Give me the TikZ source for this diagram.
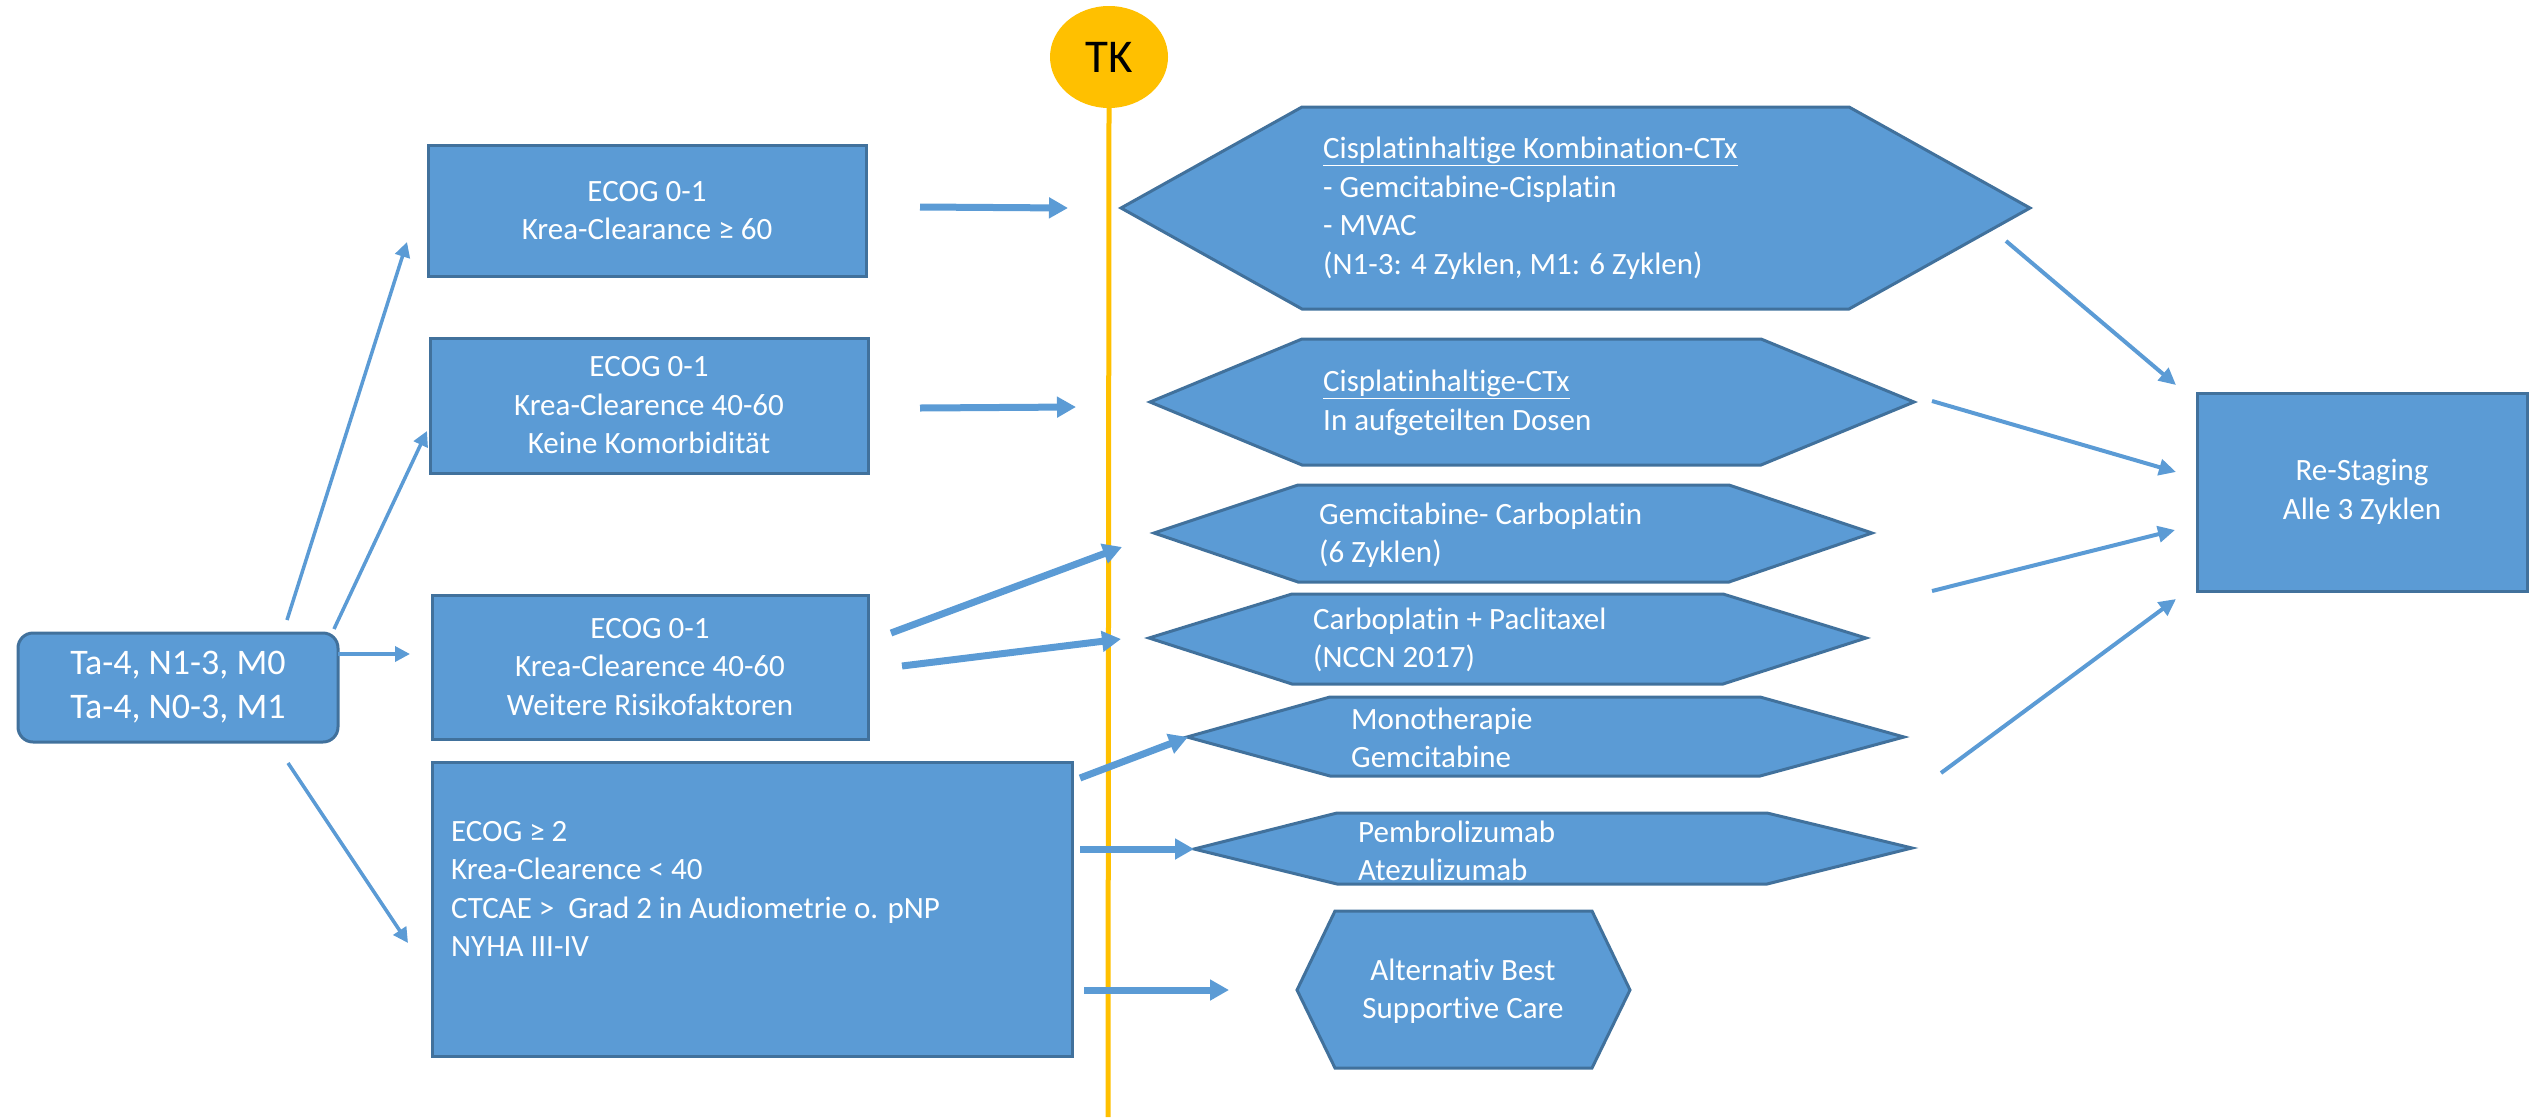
\documentclass[tikz,border=0pt]{standalone}
\usepackage{fontspec}
\setmainfont{Carlito}[Ligatures={NoCommon}]
\usetikzlibrary{arrows.meta,shapes.geometric}
\definecolor{boxfill}{HTML}{5B9BD5}
\definecolor{boxline}{HTML}{41719C}
\definecolor{tkgold}{HTML}{FFC000}
\begin{document}
\begin{tikzpicture}[x=1pt,y=-1pt,
  shapebox/.style={fill=boxfill,draw=boxline,line width=3pt,line join=miter},
  txt/.style={text=white,font=\fontsize{31}{38.5}\selectfont,inner sep=0pt},
  bigtxt/.style={text=white,font=\fontsize{36}{44}\selectfont,inner sep=0pt},
  thinarrow/.style={draw=boxfill,line width=3.5pt,-{Triangle[length=15pt,width=15pt]}},
  thickarrow/.style={draw=boxfill,line width=7pt,-{Triangle[length=19pt,width=20pt]}},
  rsarrow/.style={draw=boxfill,line width=4pt,-{Triangle[length=17pt,width=16pt]}}]
\useasboundingbox (0,0) rectangle (2529,1117);

% TK marker and time line
\node[ellipse,fill=tkgold,minimum width=118pt,minimum height=102pt,inner sep=0pt,
      font=\fontsize{47}{50}\selectfont] (tk) at (1109,57) {TK};
\coordinate (tkend) at (1108,1117);
\draw[tkgold,line width=5pt] (tk.south) -- (tkend);

% left start box
\node[shapebox,rounded corners=15pt,minimum width=320pt,minimum height=109pt,
      bigtxt,align=center] (b0) at (178,687.5) {Ta-4, N1-3, M0\\Ta-4, N0-3, M1};

% condition boxes
\node[shapebox,minimum width=438pt,minimum height=131pt,txt,align=center] (b1) at (647,210.5)
  {ECOG 0-1\\Krea-Clearance ≥ 60};
\node[shapebox,minimum width=438pt,minimum height=135pt,txt,align=center] (b2) at (649,405.5)
  {ECOG 0-1\\Krea-Clearence 40-60\\Keine Komorbidität};
\node[shapebox,minimum width=436pt,minimum height=144pt,txt,align=center] (b3) at (650,667)
  {ECOG 0-1\\Krea-Clearence 40-60\\Weitere Risikofaktoren};
\node[shapebox,minimum width=640pt,minimum height=294pt] (b4) at (752,909) {};
\node[txt,align=left,anchor=west] (b4t) at (451,889)
  {ECOG ≥ 2\\Krea-Clearence < 40\\CTCAE >\ \ Grad 2 in Audiometrie o. pNP\\NYHA III-IV};

% re-staging box
\node[shapebox,minimum width=330pt,minimum height=198pt,txt,align=center] (rs) at (2362,492)
  {Re-Staging\\Alle 3 Zyklen};

% therapy hexagons
\draw[shapebox] (1121,208) coordinate (h1w) -- (1302,107) -- (1849,107) -- (2030,208) coordinate (h1e)
  -- (1849,309) -- (1302,309) -- cycle;
\node[txt,align=left,anchor=west] (h1t) at (1323,208)
  {\underline{Cisplatinhaltige Kombination-CTx}\\- Gemcitabine-Cisplatin\\- MVAC\\(N1-3: 4 Zyklen, M1: 6 Zyklen)};

\draw[shapebox] (1150,402) coordinate (h2w) -- (1302,339) -- (1761,339) -- (1914,402) coordinate (h2e)
  -- (1761,465) -- (1302,465) -- cycle;
\node[txt,align=left,anchor=west] (h2t) at (1323,403)
  {\underline{Cisplatinhaltige-CTx}\\In aufgeteilten Dosen};

\draw[shapebox] (1154,533) coordinate (h3w) -- (1298,485) -- (1729,485) -- (1872,533) coordinate (h3e)
  -- (1729,582) -- (1298,582) -- cycle;
\node[txt,align=left,anchor=west] (h3t) at (1319,535)
  {Gemcitabine- Carboplatin\\(6 Zyklen)};

\draw[shapebox] (1149,638) coordinate (h4w) -- (1292,594) -- (1723,594) -- (1866,638) coordinate (h4e)
  -- (1723,684) -- (1292,684) -- cycle;
\node[txt,align=left,anchor=west] (h4t) at (1313,640)
  {Carboplatin + Paclitaxel\\(NCCN 2017)};

\draw[shapebox] (1187,737) coordinate (h5w) -- (1330,697) -- (1760,697) -- (1904,737) coordinate (h5e)
  -- (1760,776) -- (1330,776) -- cycle;
\node[txt,align=left,anchor=west] (h5t) at (1351,738)
  {Monotherapie\\Gemcitabine};

\draw[shapebox] (1194,849) coordinate (h6w) -- (1337,813) -- (1767,813) -- (1912,848) coordinate (h6e)
  -- (1767,884) -- (1337,884) -- cycle;
\node[txt,align=left,anchor=west] (h6t) at (1358,851)
  {Pembrolizumab\\Atezulizumab};

\draw[shapebox] (1297,990) coordinate (h7w) -- (1335,911) -- (1592,911) -- (1630,990) coordinate (h7e)
  -- (1592,1068) -- (1335,1068) -- cycle;
\node[txt,align=center] (h7t) at (1463,991)
  {Alternativ Best\\Supportive Care};

% connector end points
\coordinate (l1s) at (287,620);  \coordinate (l1e) at (407,242);
\coordinate (l2s) at (334,629);  \coordinate (l2e) at (427,431);
\coordinate (l3s) at (338,654);  \coordinate (l3e) at (410,654);
\coordinate (l4s) at (288,763);  \coordinate (l4e) at (408,943);

\coordinate (a1s) at (920,207);  \coordinate (a1e) at (1068,208);
\coordinate (a2s) at (920,408);  \coordinate (a2e) at (1076,407);
\coordinate (a3s) at (891,633);  \coordinate (a3e) at (1122,547);
\coordinate (a4s) at (902,666);  \coordinate (a4e) at (1121,639);
\coordinate (a5s) at (1080,778); \coordinate (a5e) at (1188,737);
\coordinate (a6s) at (1080,849); \coordinate (a6e) at (1194,849);
\coordinate (a7s) at (1084,990); \coordinate (a7e) at (1229,990);

\coordinate (r1s) at (2006,241); \coordinate (r1e) at (2176,385);
\coordinate (r2s) at (1932,401); \coordinate (r2e) at (2176,472);
\coordinate (r3s) at (1932,591); \coordinate (r3e) at (2175,530);
\coordinate (r4s) at (1941,773); \coordinate (r4e) at (2176,599);

% connectors
\draw[thinarrow] (l1s) -- (l1e);
\draw[thinarrow] (l2s) -- (l2e);
\draw[thinarrow] (l3s) -- (l3e);
\draw[thinarrow] (l4s) -- (l4e);

\draw[thickarrow] (a1s) -- (a1e);
\draw[thickarrow] (a2s) -- (a2e);
\draw[thickarrow] (a3s) -- (a3e);
\draw[thickarrow] (a4s) -- (a4e);
\draw[thickarrow] (a5s) -- (a5e);
\draw[thickarrow] (a6s) -- (a6e);
\draw[thickarrow] (a7s) -- (a7e);

\draw[rsarrow] (r1s) -- (r1e);
\draw[rsarrow] (r2s) -- (r2e);
\draw[rsarrow] (r3s) -- (r3e);
\draw[rsarrow] (r4s) -- (r4e);
\end{tikzpicture}
\end{document}
